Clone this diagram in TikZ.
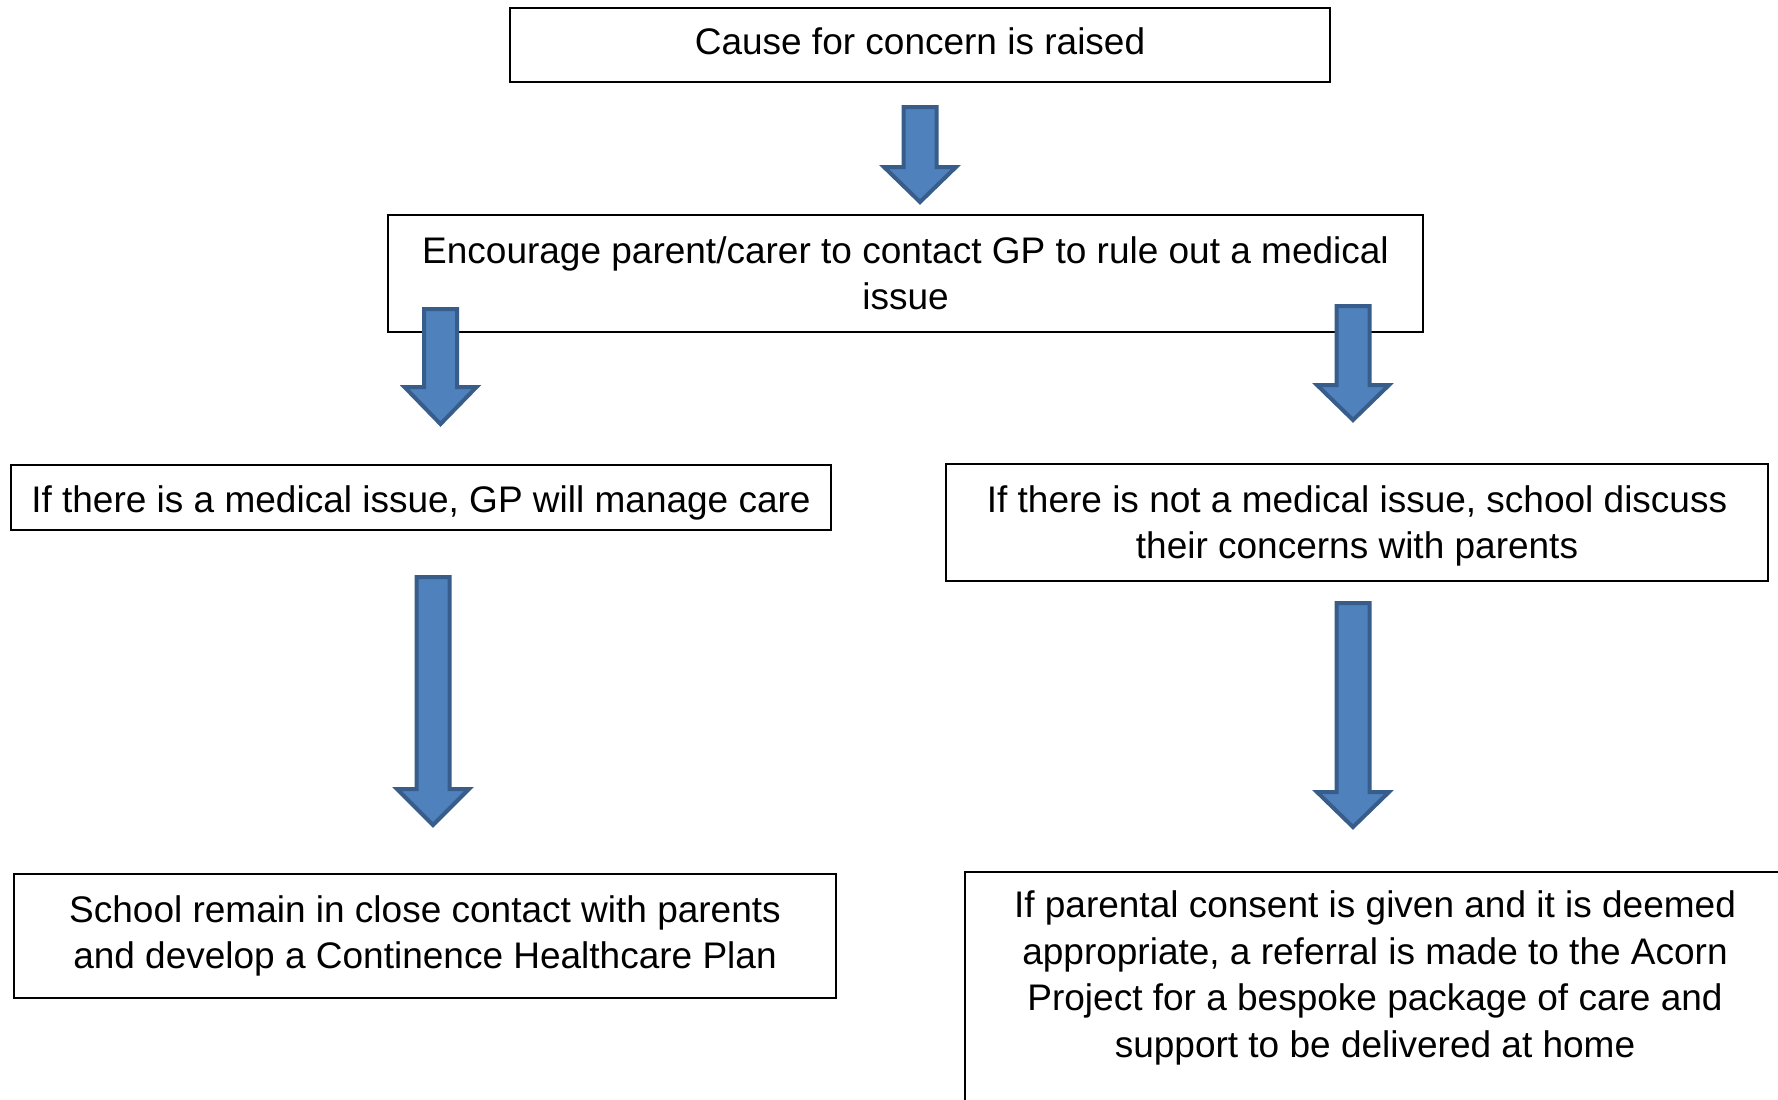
\documentclass[tikz,border=0pt]{standalone}
\usepackage{fontspec}
\setmainfont{Liberation Sans}
\usetikzlibrary{calc}
\definecolor{arrfill}{HTML}{4F81BD}
\definecolor{arrline}{HTML}{385D8A}
\tikzset{
  box/.style={draw=black, line width=1pt, fill=white, inner sep=0pt},
  txt/.style={align=center, inner sep=0pt, font=\fontsize{18.5}{23.25}\selectfont},
  blockarrow/.style={fill=arrfill, draw=arrline, line width=2pt, line join=miter}
}
\newcommand{\blockarr}[3]{%
  \draw[blockarrow] ($(#1)+(-16.5,0)$) -- ($(#2)+(-16.5,-#3)$) -- ($(#2)+(-36,-#3)$) -- (#2)
    -- ($(#2)+(36,-#3)$) -- ($(#2)+(16.5,-#3)$) -- ($(#1)+(16.5,0)$) -- cycle;}
\begin{document}
\begin{tikzpicture}[x=0.5pt,y=-0.5pt]
\useasboundingbox (0,0) rectangle (1778,1099);
\clip (0,0) rectangle (1778,1099);
\fill[white] (0,0) rectangle (1778,1099);

% boxes
\node[box, minimum width=410pt, minimum height=37pt] (b1) at (920,45) {};
\node[box, minimum width=517.5pt, minimum height=58.5pt] (b2) at (905.5,273.5) {};
\node[box, minimum width=410pt, minimum height=32.5pt] (b3) at (421,497.5) {};
\node[box, minimum width=411pt, minimum height=58.5pt] (b4) at (1357,522.5) {};
\node[box, minimum width=411pt, minimum height=62pt] (b5) at (425,936) {};
\node[box, minimum width=411pt, minimum height=140pt, anchor=north west] (b6) at (964,871) {};

% texts
\node[txt] (t1) at (920,41.6) {Cause for concern is raised};
\node[txt] (t2) at (905.5,273.5) {Encourage parent/carer to contact GP to rule out a medical\\issue};
\node[txt] (t3) at (421,503.2) {If there is a medical issue, GP will manage care};
\node[txt] (t4) at (1357,525.9) {If there is not a medical issue, school discuss\\their concerns with parents};
\node[txt] (t5) at (425,936) {School remain in close contact with parents\\and develop a Continence Healthcare Plan};
\node[txt] (t6) at (1375,978) {If parental consent is given and it is deemed\\appropriate, a referral is made to the Acorn\\Project for a bespoke package of care and\\support to be delivered at home};

% block arrows
\coordinate (a1s) at (920,107);
\coordinate (a1e) at (920,202);
\coordinate (a2ls) at (440.5,309);
\coordinate (a2le) at (440.5,424);
\coordinate (a2rs) at (1353,306);
\coordinate (a2re) at (1353,420);
\coordinate (a3ls) at (433,577);
\coordinate (a3le) at (433,825);
\coordinate (a3rs) at (1353,603);
\coordinate (a3re) at (1353,827);

\blockarr{a1s}{a1e}{35}
\blockarr{a2ls}{a2le}{37}
\blockarr{a2rs}{a2re}{35}
\blockarr{a3ls}{a3le}{36}
\blockarr{a3rs}{a3re}{35}
\end{tikzpicture}
\end{document}
